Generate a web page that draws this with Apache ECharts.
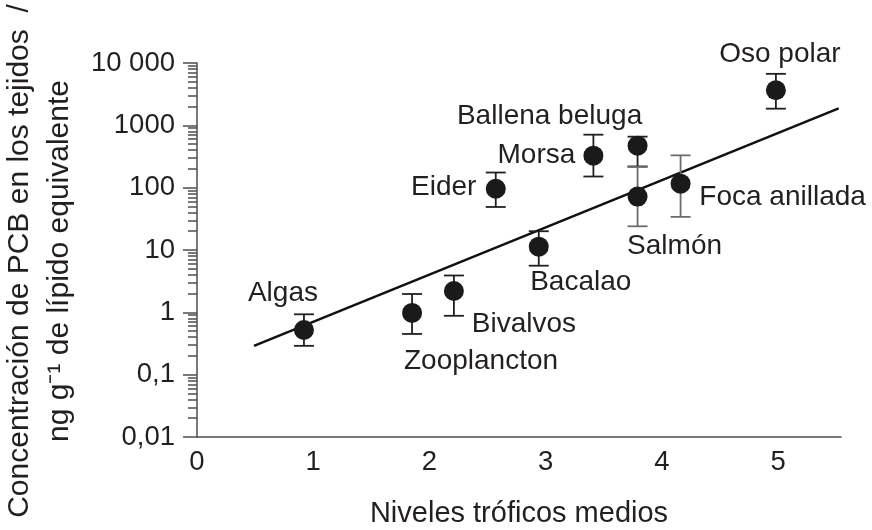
<!DOCTYPE html>
<html><head><meta charset="utf-8">
<script src="https://cdn.jsdelivr.net/npm/echarts@6/dist/echarts.min.js"></script>
<style>html,body{margin:0;padding:0;background:#fff}#c{width:872px;height:530px}</style>
</head><body><div id="c"></div>
<script>
// ---- data ----
const species = ['Algas','Zooplancton','Bivalvos','Bacalao','Eider','Morsa','Ballena beluga','Salmón','Foca anillada','Oso polar'];
const trophicLevel = [0.92, 1.85, 2.21, 2.94, 2.57, 3.41, 3.79, 3.79, 4.16, 4.98];
const pcbMean = [0.52, 0.98, 2.2, 11.3, 96, 326, 472, 72, 116, 3650];
const pcbLow  = [0.29, 0.45, 0.88, 5.6, 49, 151, 219, 24, 34, 1850];
const pcbHigh = [0.93, 1.97, 3.9, 20, 175, 708, 658, 215, 330, 6700];
const fitX = [0.49, 5.52];
const fitY = [0.29, 1875];
const yTickLabels = ['0,01', '0,1', '1', '10', '100', '1000', '10 000'];
const xTickLabels = ['0', '1', '2', '3', '4', '5'];

// ---- presentation (positions/styles) ----
const labelOffsets = [[-21,-37],[69,48],[70,33],[42,36],[-52,-1],[-57,0],[-88,-29],[37,50],[102,14],[4,-36]];
const barColors = ['#231f20','#231f20','#231f20','#231f20','#231f20','#231f20','#231f20','#6d6d6d','#6d6d6d','#231f20'];
const FONT = 'Liberation Sans, Arial, sans-serif';
const TXT = '#231f20';
const AX = '#4d4d4d';

const chart = echarts.init(document.getElementById('c'), null, {renderer: 'canvas'});

const scatterData = species.map((s, i) => ({
  value: [trophicLevel[i], pcbMean[i]],
  name: s,
  label: { offset: labelOffsets[i] }
}));
const errData = species.map((s, i) => [trophicLevel[i], pcbLow[i], pcbHigh[i], i]);

chart.setOption({
  animation: false,
  backgroundColor: '#fff',
  grid: { left: 197, right: 31, top: 63, bottom: 93, containLabel: false, outerBoundsMode: 'none' },
  xAxis: {
    type: 'value', min: 0, max: 5.54, interval: 1,
    splitLine: { show: false },
    axisTick: { show: false },
    axisLine: { lineStyle: { color: AX, width: 1.5 } },
    axisLabel: {
      color: TXT, fontFamily: FONT, fontSize: 27.5, margin: 11, showMaxLabel: false,
      formatter: v => { const k = Math.round(v); return Math.abs(v - k) < 1e-6 && xTickLabels[k] !== undefined ? xTickLabels[k] : ''; }
    },
    name: 'Niveles tróficos medios', nameLocation: 'middle', nameGap: 62,
    nameTextStyle: { color: TXT, fontFamily: FONT, fontSize: 29 }
  },
  yAxis: {
    type: 'log', logBase: 10, min: 0.01, max: 10000, interval: 1,
    splitLine: { show: false },
    axisLine: { show: true, lineStyle: { color: AX, width: 1.5 } },
    axisTick: { show: true, length: 14, lineStyle: { color: AX, width: 1.5 } },
    minorTick: { show: true, splitNumber: 9, length: 9, lineStyle: { color: AX, width: 1.5 } },
    axisLabel: {
      color: TXT, fontFamily: FONT, fontSize: 27.5, margin: 22,
      formatter: v => { const k = Math.round(Math.log10(v)) + 2; return yTickLabels[k] !== undefined ? yTickLabels[k] : ''; }
    },
    name: 'Concentración de PCB en los tejidos  /\nng g⁻¹ de lípido equivalente',
    nameLocation: 'middle', nameRotate: 90, nameGap: 115,
    nameTextStyle: { color: TXT, fontFamily: FONT, fontSize: 30, lineHeight: 40, padding: [0, 22, 0, 0] }
  },
  series: [
    {
      type: 'line', data: fitX.map((x, i) => [x, fitY[i]]),
      symbol: 'none', lineStyle: { color: '#111', width: 2.5 }, z: 2, silent: true
    },
    {
      type: 'custom', data: errData, z: 3, silent: true,
      encode: { x: 0, y: [1, 2] },
      renderItem: (params, api) => {
        const x = api.value(0);
        const lo = api.coord([x, api.value(1)]);
        const hi = api.coord([x, api.value(2)]);
        const c = barColors[api.value(3)];
        const hw = 10;
        const st = { stroke: c, lineWidth: 1.8, fill: null };
        return { type: 'group', children: [
          { type: 'line', shape: { x1: lo[0], y1: lo[1], x2: hi[0], y2: hi[1] }, style: st },
          { type: 'line', shape: { x1: lo[0] - hw, y1: lo[1], x2: lo[0] + hw, y2: lo[1] }, style: st },
          { type: 'line', shape: { x1: hi[0] - hw, y1: hi[1], x2: hi[0] + hw, y2: hi[1] }, style: st }
        ]};
      }
    },
    {
      type: 'scatter', data: scatterData, symbol: 'circle', symbolSize: 20, z: 4,
      itemStyle: { color: '#1a1a1a', opacity: 1 },
      label: {
        show: true, position: 'inside', formatter: p => p.name,
        color: TXT, fontFamily: FONT, fontSize: 28, align: 'center', verticalAlign: 'middle'
      }
    }
  ]
});
</script></body></html>
